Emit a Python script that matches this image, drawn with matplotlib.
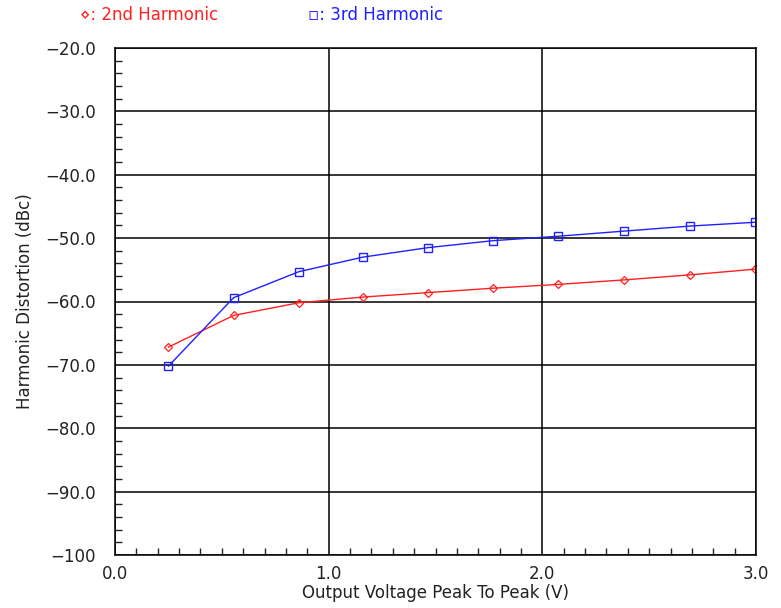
import matplotlib
matplotlib.use("Agg")
import matplotlib.pyplot as plt
from matplotlib.ticker import MultipleLocator, FixedLocator

# data
vpp = [0.25, 0.555, 0.86, 1.16, 1.465, 1.77, 2.075, 2.38, 2.69, 2.995]
second = [-67.2, -62.2, -60.2, -59.3, -58.6, -57.9, -57.3, -56.6, -55.8, -54.9]
third = [-70.2, -59.4, -55.3, -53.0, -51.5, -50.4, -49.7, -48.9, -48.1, -47.5]

ytick_vals = [-20, -30, -40, -50, -60, -70, -80, -90, -100]
ytick_labels = ["−20.0", "−30.0", "−40.0", "−50.0", "−60.0", "−70.0", "−80.0", "−90.0", "−100"]
xtick_vals = [0.0, 1.0, 2.0, 3.0]
xtick_labels = ["0.0", "1.0", "2.0", "3.0"]

plt.rcParams['font.family'] = ['DejaVu Sans']

fig = plt.figure(figsize=(7.81, 6.08), dpi=100)
ax = fig.add_axes([115/781, 53/608, 641/781, 507/608])

ax.plot(vpp, second, color='#ff2020', lw=1.0, marker='D', ms=4.5,
        mfc='none', mec='#ff2020', mew=0.9)
ax.plot(vpp, third, color='#2020ff', lw=1.0, marker='s', ms=5.5,
        mfc='none', mec='#2020ff', mew=1.0)

ax.set_xlim(0, 3.0)
ax.set_ylim(-100, -20)
ax.xaxis.set_major_locator(FixedLocator(xtick_vals))
ax.set_xticklabels(xtick_labels)
ax.yaxis.set_major_locator(FixedLocator(ytick_vals))
ax.set_yticklabels(ytick_labels)
ax.xaxis.set_minor_locator(MultipleLocator(0.1))
ax.yaxis.set_minor_locator(MultipleLocator(2))

ax.grid(True, which='major', color='black', lw=1.1)
ax.set_axisbelow(True)
ax.tick_params(which='both', direction='in', top=False, right=False,
               labelsize=12, colors='#222222')
ax.tick_params(which='major', length=0)
ax.tick_params(which='minor', length=5, width=1.0)
ax.tick_params(axis='y', pad=14)
ax.tick_params(axis='x', pad=7)
for s in ax.spines.values():
    s.set_color('black')
    s.set_linewidth(1.1)

ax.set_xlabel("Output Voltage Peak To Peak (V)", fontsize=12, color='#222222', labelpad=1)
ax.set_ylabel("Harmonic Distortion (dBc)", fontsize=12, color='#222222', labelpad=8)

fig.text(80/781, 1 - 15/608, "⋄: 2nd Harmonic", color='#ff2020', fontsize=12, va='center')
fig.text(308/781, 1 - 15/608, "▫: 3rd Harmonic", color='#2020ff', fontsize=12, va='center')

fig.savefig("out.png", dpi=100)
